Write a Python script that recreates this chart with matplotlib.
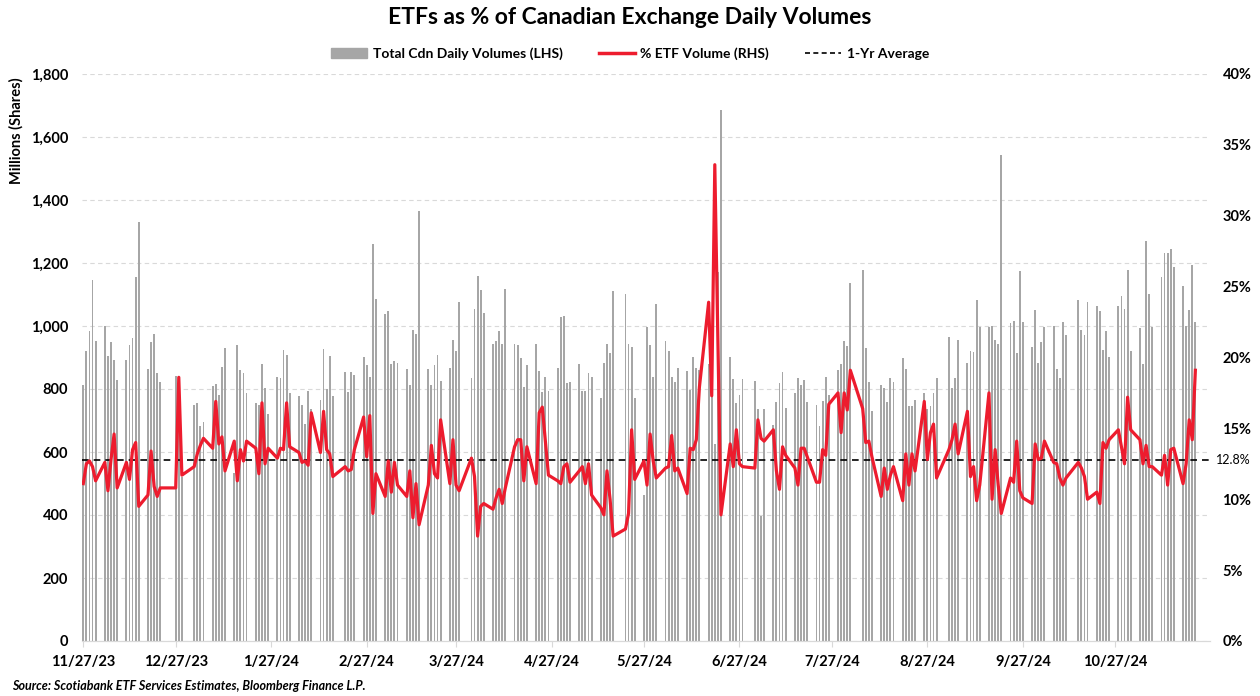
import pandas as pd
import matplotlib
matplotlib.use("Agg")
import matplotlib.pyplot as plt
from matplotlib.ticker import FuncFormatter, MultipleLocator
from matplotlib.lines import Line2D
from matplotlib.patches import Patch

plt.rcParams['font.family'] = ['Lato', 'DejaVu Sans']

# TSX trading days, 11/27/23 - 11/22/24
tsx_holidays = ['2023-12-25', '2023-12-26', '2024-01-01', '2024-02-19', '2024-03-29',
                '2024-05-20', '2024-07-01', '2024-08-05', '2024-09-02', '2024-10-14']
dates = pd.bdate_range('2023-11-27', '2024-11-22', freq='C', holidays=tsx_holidays)

# Total Cdn daily volumes, millions of shares (one row per week)
volumes = [
    814, 920, 985, 1147, 952,
    1001, 905, 948, 893, 827,
    893, 940, 962, 1155, 1329,
    864, 948, 975, 851, 823,
    842, 838, 520,
    750, 754, 683, 695,
    808, 815, 780, 871, 931,
    532, 940, 861, 852, 788,
    757, 750, 878, 804, 722,
    837, 834, 923, 909, 788,
    778, 748, 689, 795, 737,
    765, 926, 800, 905, 778,
    854, 789, 854, 843,
    900, 877, 839, 1260, 1085,
    1038, 1047, 880, 890, 884,
    862, 812, 987, 975, 1366,
    864, 812, 877, 909, 826,
    866, 954, 922, 1076,
    834, 1053, 1160, 1113, 1040,
    943, 953, 984, 942, 1118,
    942, 940, 897, 806, 877,
    944, 856, 789, 839, 795,
    868, 1029, 1032, 819, 823,
    880, 795, 795, 852, 839,
    771, 882, 944, 913, 1110,
    1100, 944, 932, 770,
    464, 998, 940, 837, 1071,
    951, 922, 837, 823, 867,
    856, 797, 903, 867, 860,
    880, 820, 625, 1172, 1687,
    903, 831, 757, 780, 831,
    824, 737, 396, 737,
    686, 760, 819, 853, 739,
    786, 834, 812, 828, 760,
    750, 683, 761, 839, 780,
    860, 880, 951, 936, 1138,
    1178, 929, 823, 730,
    812, 804, 759, 834, 823,
    897, 862, 745, 745, 765,
    786, 735, 745, 786, 834,
    965, 804, 834, 956,
    882, 921, 917, 1082, 996,
    996, 1001, 954, 943, 1542,
    1010, 1016, 914, 1176, 1012,
    934, 1051, 882, 948, 996,
    1001, 864, 836, 1014, 970,
    1082, 988, 970, 1077,
    1062, 1048, 923, 984, 903,
    1062, 1096, 1055, 1178, 921,
    993, 880, 1269, 1100, 996,
    1155, 1232, 1233, 1246, 1188,
    1126, 1001, 1051, 1194, 1014,
]

# ETF share of volume, %
etf_pct = [
    11.1, 12.5, 12.7, 12.3, 11.3,
    12.6, 10.6, 12.8, 14.6, 10.8,
    12.6, 11.4, 13.5, 14.0, 9.5,
    10.3, 13.4, 10.9, 10.2, 10.8,
    10.8, 18.6, 11.7,
    12.3, 13.2, 13.8, 14.3,
    13.6, 16.9, 13.9, 14.4, 12.0,
    14.1, 11.3, 13.5, 12.7, 14.1,
    13.6, 11.8, 16.8, 12.5, 13.6,
    12.9, 13.6, 13.5, 16.8, 13.7,
    13.3, 12.6, 12.7, 12.4, 16.1,
    13.3, 16.2, 13.5, 13.2, 11.6,
    12.3, 12.0, 12.1, 13.5,
    15.8, 13.0, 15.9, 9.0, 11.8,
    10.2, 12.7, 10.5, 12.6, 11.0,
    10.2, 12.0, 8.7, 11.1, 8.2,
    11.0, 13.8, 11.8, 11.5, 15.6,
    11.1, 14.2, 11.0, 10.6,
    12.9, 11.6, 7.4, 9.5, 9.7,
    9.3, 10.1, 10.7, 9.7, 10.8,
    13.7, 14.2, 14.2, 11.3, 13.7,
    11.1, 16.1, 16.5, 14.1, 11.7,
    11.3, 11.1, 12.3, 12.5, 11.2,
    12.0, 12.3, 11.1, 12.5, 10.3,
    9.4, 8.9, 12.0, 10.0, 7.4,
    7.9, 9.0, 14.9, 11.4,
    12.7, 11.0, 14.6, 12.7, 11.5,
    12.2, 12.3, 14.5, 12.0, 12.2,
    10.4, 13.6, 13.5, 14.2, 17.9,
    23.9, 17.3, 33.6, 21.4, 8.9,
    13.9, 12.3, 14.9, 12.5, 12.3,
    12.2, 15.6, 14.3, 14.1,
    14.9, 12.0, 10.7, 13.7, 13.1,
    12.2, 11.0, 13.6, 13.6, 13.0,
    11.2, 11.2, 13.5, 13.1, 16.7,
    17.5, 14.7, 17.5, 16.3, 19.1,
    16.4, 14.0, 14.1, 13.0,
    10.2, 12.2, 10.7, 11.7, 12.3,
    9.9, 13.2, 11.0, 13.2, 12.0,
    16.9, 12.8, 14.7, 15.3, 11.5,
    13.5, 14.2, 15.3, 13.2,
    16.2, 11.6, 12.3, 9.9, 11.0,
    17.5, 10.0, 13.5, 11.0, 9.0,
    11.5, 11.2, 14.1, 10.6, 10.1,
    9.7, 13.9, 12.8, 12.9, 14.1,
    12.6, 12.5, 11.5, 11.0, 11.5,
    12.6, 12.2, 11.6, 10.0,
    10.5, 9.7, 14.0, 13.6, 14.2,
    14.9, 13.7, 12.5, 17.2, 14.9,
    14.2, 12.5, 13.8, 12.3, 12.3,
    11.7, 13.1, 11.0, 13.5, 13.6,
    11.1, 12.5, 15.6, 14.2, 19.1,
]

avg_pct = 12.8
tick_labels = ['11/27/23', '12/27/23', '1/27/24', '2/27/24', '3/27/24', '4/27/24',
               '5/27/24', '6/27/24', '7/27/24', '8/27/24', '9/27/24', '10/27/24']

assert len(dates) == len(volumes) == len(etf_pct), (len(dates), len(volumes), len(etf_pct))

RED = '#ed1c2e'
GREY = '#a6a6a6'

fig = plt.figure(figsize=(12.6, 6.96), dpi=100)
ax = fig.add_axes([82 / 1260, 55 / 696, 1128 / 1260, 567 / 696])
ax2 = ax.twinx()

ax.bar(dates, volumes, width=0.6, color=GREY, linewidth=0, zorder=2)
ax.set_ylim(0, 1800)
ax.yaxis.set_major_locator(MultipleLocator(200))
ax.yaxis.set_major_formatter(FuncFormatter(lambda v, p: f'{v:,.0f}'))
ax.grid(axis='y', color='#d9d9d9', linestyle=(0, (4, 3)), linewidth=0.8)
ax.set_axisbelow(True)

ax2.axhline(avg_pct / 100, color='black', linestyle=(0, (4, 3)), linewidth=1.2, zorder=3)
ax2.plot(dates, [p / 100 for p in etf_pct], color=RED, linewidth=2.3, zorder=4)
ax2.set_ylim(0, 0.40)
ax2.yaxis.set_major_locator(MultipleLocator(0.05))
ax2.yaxis.set_major_formatter(FuncFormatter(lambda v, p: f'{v:.0%}'))
ax2.text(1.0 + 6 / 1128, avg_pct / 100, f'{avg_pct}%', transform=ax2.get_yaxis_transform(),
         ha='left', va='center', fontsize=9)

ax.set_xlim(pd.Timestamp('2023-11-26 14:00'), pd.Timestamp('2024-11-26 18:00'))
ax.set_xticks(pd.to_datetime(tick_labels, format='%m/%d/%y'))
ax.set_xticklabels(tick_labels)

for a in (ax, ax2):
    for s in ('top', 'left', 'right'):
        a.spines[s].set_visible(False)
    a.spines['bottom'].set_color('#d9d9d9')
ax.tick_params(axis='x', length=4, color='#d9d9d9', pad=6, labelsize=10.5)
ax.tick_params(axis='y', length=0, pad=10, labelsize=10.5)
ax2.tick_params(axis='y', length=0, pad=9, labelsize=10.5)
for lbl in ax.get_xticklabels() + ax.get_yticklabels() + ax2.get_yticklabels():
    lbl.set_fontweight('bold')

ax.set_ylabel('Millions (Shares)', fontsize=10.5, fontweight='bold')
ax.yaxis.set_label_coords(-58 / 1128, 0.90)

fig.text(0.5, 1 - 18 / 696, 'ETFs as % of Canadian Exchange Daily Volumes',
         ha='center', va='center', fontsize=16.5, fontweight='bold')

handles = [Patch(color=GREY),
           Line2D([], [], color=RED, linewidth=2.5),
           Line2D([], [], color='black', linestyle=(0, (3, 2)), linewidth=1.2)]
fig.legend(handles, ['Total Cdn Daily Volumes (LHS)', '% ETF Volume (RHS)', '1-Yr Average'],
           loc='center', bbox_to_anchor=(0.5, 1 - 54 / 696), ncol=3, frameon=False,
           prop={'weight': 'bold', 'size': 10}, handlelength=2.6, columnspacing=2.6,
           handletextpad=0.4)

fig.text(12 / 1260, 1 - 686 / 696, 'Source: Scotiabank ETF Services Estimates, Bloomberg Finance L.P.',
         ha='left', va='center', fontsize=9, fontweight='bold', fontstyle='italic')

fig.savefig('out.png', dpi=100)
